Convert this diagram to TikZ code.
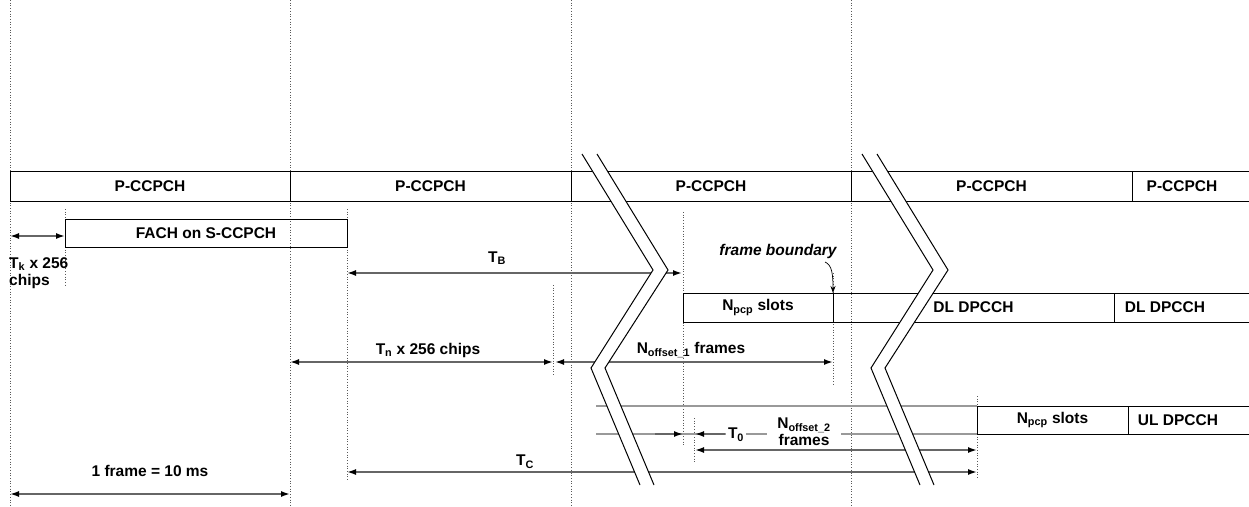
\documentclass[tikz,border=0pt]{standalone}
\usepackage{fontspec}
\setmainfont{Liberation Sans}
\usetikzlibrary{arrows.meta}
\newcommand\sigfont{\fontsize{15.5}{17}\selectfont\bfseries}
\tikzstyle{cell}=[draw, line width=1pt, inner sep=0pt, outer sep=0pt, font=\sigfont]
\tikzstyle{row}=[line width=1pt]
\tikzstyle{lbl}=[inner sep=1pt, font=\sigfont]
\tikzstyle{grid}=[dotted, line width=0.7pt, black!65]
\tikzstyle{ext}=[line width=1.2pt, black!40]
\tikzstyle{span}=[<->, >={Latex[length=9pt,width=6pt,color=black]}, line width=1.6pt, draw=black!60]
\tikzstyle{spanR}=[->, >={Latex[length=9pt,width=6pt,color=black]}, line width=1.6pt, draw=black!60]
\tikzstyle{hook}=[->, >={Stealth[length=7pt,width=5pt]}, line width=0.7pt]
\tikzstyle{brk}=[line width=1pt]

\begin{document}
\begin{tikzpicture}[x=1pt,y=-1pt]
  \clip (0,0) rectangle (1249,506);
  % frame grid
  \foreach \x in {10,290,571,851}
    \draw[grid] (\x,0) -- (\x,506);
  \draw[grid] (65,209) -- (65,285);
  \draw[grid] (347,209) -- (347,480);
  \draw[grid] (553,285) -- (553,376);
  \draw[grid] (683,212) -- (683,445);
  \draw[grid] (694,418) -- (694,462);
  \draw[grid] (833,273) -- (833,384);
  \draw[grid] (977,396) -- (977,478);
  % P-CCPCH
  \node(pc1) [cell, minimum width=280pt, minimum height=30pt] at (150,186){P-CCPCH};
  \node(pc2) [cell, minimum width=281pt, minimum height=30pt] at (430.5,186){P-CCPCH};
  \node(pc3) [cell, minimum width=280pt, minimum height=30pt] at (711,186){P-CCPCH};
  \node(pc4) [cell, minimum width=281pt, minimum height=30pt] at (991.5,186){P-CCPCH};
  \node(pc5) [lbl] at (1182,186){P-CCPCH};
  \draw[row] (pc4.north east) -- ++(130,0) (pc4.south east) -- ++(130,0);
  % S-CCPCH
  \node(fach) [cell, minimum width=282pt, minimum height=28pt] at (206,233){FACH on S-CCPCH};
  % DL DPCCH
  \node(dl0) [cell, minimum width=150pt, minimum height=29pt] at (758,307.5){N\textsubscript{pcp} slots};
  \node(dl1) [cell, minimum width=281pt, minimum height=29pt] at (973.5,307.5){DL DPCCH};
  \node(dl2) [lbl] at (1165,307.5){DL DPCCH};
  \draw[row] (dl1.north east) -- ++(150,0) (dl1.south east) -- ++(150,0);
  % UL DPCCH
  \node(ul0) [cell, minimum width=151pt, minimum height=28pt] at (1052.5,420){N\textsubscript{pcp} slots};
  \node(ul1) [lbl] at (1178,420){UL DPCCH};
  \draw[row] (ul0.north east) -- ++(140,0) (ul0.south east) -- ++(140,0);
  \coordinate(ulA) at (596,406);
  \coordinate(ulB) at (596,434);
  \draw[ext] (ulA) -- (ul0.north west);
  \draw[ext] (ulB) -- (ul0.south west);
  % spans
  \coordinate(tk0) at (10,236);
  \coordinate(tk1) at (65,236);
  \coordinate(tb0) at (347,273);
  \coordinate(tb1) at (682,273);
  \coordinate(tn0) at (290,362);
  \coordinate(tn1) at (553,362);
  \coordinate(no0) at (555,362);
  \coordinate(no1) at (833,362);
  \coordinate(ta0) at (655,434);
  \coordinate(ta1) at (683,434);
  \coordinate(tz0) at (725,434);
  \coordinate(tz1) at (695,434);
  \coordinate(nt0) at (695,450);
  \coordinate(nt1) at (977,450);
  \coordinate(tc0) at (347,472);
  \coordinate(tc1) at (977,472);
  \coordinate(fr0) at (10,494);
  \coordinate(fr1) at (290,494);
  \draw[span] (tk0) -- (tk1);
  \draw[span] (tb0) -- (tb1);
  \draw[span] (tn0) -- (tn1);
  \draw[span] (no0) -- (no1);
  \draw[spanR] (ta0) -- (ta1);
  \draw[spanR] (tz0) -- (tz1);
  \draw[span] (nt0) -- (nt1);
  \draw[span] (tc0) -- (tc1);
  \draw[span] (fr0) -- (fr1);
  % breaks
  \foreach \s in {0,280}{
    \begin{scope}[xshift=\s pt]
      \fill[white] (582,154) -- (653,270) -- (591,368) -- (640,485)
        -- (654,485) -- (605,368) -- (668,270) -- (597,154) -- cycle;
      \draw[brk] (582,154) -- (653,270) -- (591,368) -- (640,485);
      \draw[brk] (597,154) -- (668,270) -- (605,368) -- (654,485);
    \end{scope}
  }
  % labels
  \node(tk) [lbl, inner sep=0pt, align=left, anchor=north west] at (9,257){T\textsubscript{k} x 256\\chips};
  \node(tb) [lbl] at (497,258){T\textsubscript{B}};
  \node(tn) [lbl] at (428,350){T\textsubscript{n} x 256 chips};
  \node(no) [lbl] at (691,350){N\textsubscript{offset\_1} frames};
  \node(fb) [lbl, font=\sigfont\itshape] at (778,251){frame boundary};
  \coordinate(fbs) at (825,262);
  \draw[hook] (fbs) .. controls (832,265) and (833,274) .. (dl0.north east);
  \node(t0) [lbl, fill=white, inner xsep=2pt] at (736,435){T\textsubscript{0}};
  \node(nt) [lbl, fill=white, align=center, inner xsep=10pt, inner ysep=0pt] at (804,432){N\textsubscript{offset\_2}\\frames};
  \node(tc) [lbl] at (525,462){T\textsubscript{C}};
  \node(fr) [lbl] at (150,471){1 frame = 10 ms};
\end{tikzpicture}
\end{document}
